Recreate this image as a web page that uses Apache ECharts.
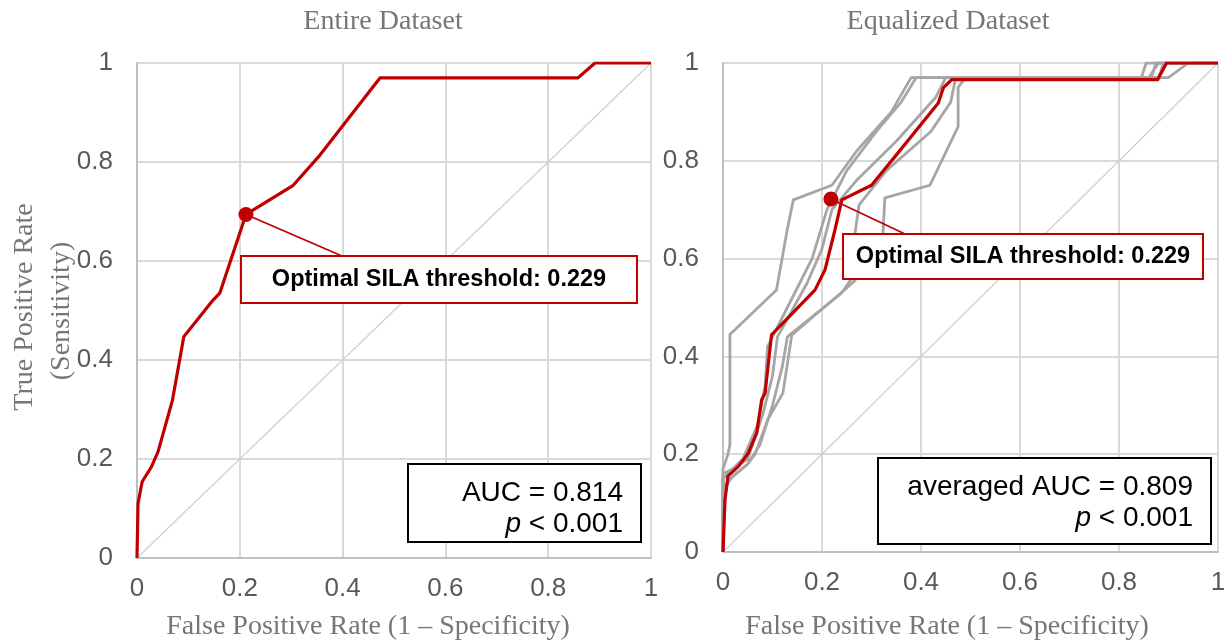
<!DOCTYPE html>
<html>
<head>
<meta charset="utf-8">
<script src="https://cdn.jsdelivr.net/npm/echarts@6/dist/echarts.min.js"></script>
<style>
html,body{margin:0;padding:0;background:#fff}
#roc{width:1232px;height:640px}
</style>
</head>
<body>
<div id="roc"></div>
<script>
// axis ticks (both panels)
var tickValues = [0, 0.2, 0.4, 0.6, 0.8, 1];

// Entire dataset ROC curve  [fpr, tpr]
var entireCurve = [[0,0],[0.002,0.11],[0.01,0.154],[0.028,0.184],[0.041,0.215],[0.069,0.319],[0.091,0.447],
  [0.148,0.521],[0.161,0.535],[0.212,0.694],[0.304,0.753],[0.356,0.814],[0.473,0.97],[0.858,0.97],[0.891,1],[1,1]];
var entireOptimal = [[0.212,0.694]];

// Equalized dataset: averaged curve (red) + individual runs (grey)
var equalAvgCurve = [[0,0],[0.004,0.106],[0.01,0.155],[0.031,0.175],[0.051,0.202],[0.068,0.243],[0.078,0.311],
  [0.085,0.325],[0.098,0.444],[0.186,0.536],[0.206,0.577],[0.226,0.658],[0.24,0.72],[0.30,0.75],[0.347,0.808],
  [0.435,0.918],[0.445,0.949],[0.462,0.966],[0.878,0.966],[0.896,1],[1,1]];
var equalOptimal = [[0.218,0.722]];
var run1 = [[0,0],[0,0.17],[0.01,0.2],[0.014,0.22],[0.014,0.445],[0.108,0.536],[0.13,0.66],[0.142,0.72],
  [0.22,0.75],[0.27,0.82],[0.34,0.9],[0.38,0.97],[0.86,0.97],[0.88,1],[1,1]];
var run2 = [[0,0],[0,0.16],[0.02,0.17],[0.04,0.19],[0.07,0.26],[0.085,0.34],[0.09,0.42],[0.13,0.5],[0.18,0.6],
  [0.21,0.7],[0.25,0.78],[0.31,0.86],[0.36,0.92],[0.39,0.97],[0.845,0.97],[0.855,1],[1,1]];
var run3 = [[0,0],[0,0.15],[0.02,0.17],[0.05,0.19],[0.08,0.28],[0.1,0.36],[0.11,0.44],[0.17,0.55],[0.2,0.62],
  [0.22,0.7],[0.27,0.76],[0.35,0.84],[0.43,0.93],[0.45,0.97],[0.865,0.97],[0.875,1],[1,1]];
var run4 = [[0,0],[0,0.12],[0.015,0.15],[0.05,0.18],[0.075,0.22],[0.1,0.3],[0.12,0.38],[0.13,0.44],[0.24,0.53],
  [0.26,0.56],[0.265,0.64],[0.275,0.71],[0.33,0.78],[0.42,0.86],[0.46,0.92],[0.47,0.97],[0.88,0.97],[0.89,1],[1,1]];
var run5 = [[0,0],[0,0.13],[0.02,0.155],[0.05,0.18],[0.065,0.2],[0.09,0.27],[0.121,0.325],[0.139,0.444],
  [0.25,0.54],[0.267,0.556],[0.323,0.648],[0.327,0.724],[0.418,0.75],[0.475,0.87],[0.475,0.95],[0.49,0.97],
  [0.9,0.97],[0.94,1],[1,1]];
var equalRuns = [run1, run2, run3, run4, run5];
var chance = [[0,0],[1,1]];

var RED = '#c00000', GREY = '#a6a6a6';
var tickFont = 'Liberation Sans';
var serif = "'Liberation Serif', 'Times New Roman', serif";

function valAxis(gi, isY) {
  return {
    type: 'value', gridIndex: gi, min: 0, max: 1, interval: 0.2,
    axisLine: {show: true, lineStyle: {color: '#bfbfbf', width: 2}},
    axisTick: {show: false},
    splitLine: {show: true, lineStyle: {color: '#d9d9d9', width: 2}},
    axisLabel: {
      color: '#595959', fontSize: 26, fontFamily: tickFont,
      margin: isY ? 24 : 18,
      formatter: function (v) { return String(+v.toFixed(1)); }
    }
  };
}

function line(gi, data, color, width, z) {
  return {
    type: 'line', xAxisIndex: gi, yAxisIndex: gi, data: data,
    symbol: 'none', silent: true, animation: false, z: z,
    lineStyle: {color: color, width: width, join: 'round'}
  };
}

var series = [
  line(0, chance, '#cfcfcf', 1.2, 1),
  line(1, chance, '#cfcfcf', 1.2, 1)
];
equalRuns.forEach(function (r) { series.push(line(1, r, GREY, 2.8, 2)); });
series.push(line(0, entireCurve, RED, 3.2, 3));
series.push(line(1, equalAvgCurve, RED, 3.2, 3));
[[0, entireOptimal], [1, equalOptimal]].forEach(function (p) {
  series.push({type: 'scatter', xAxisIndex: p[0], yAxisIndex: p[0], data: p[1],
    symbolSize: 15, itemStyle: {color: RED, opacity: 1}, z: 5, silent: true, animation: false});
});

var chart = echarts.init(document.getElementById('roc'));
chart.setOption({
  backgroundColor: '#fff',
  animation: false,
  grid: [
    {left: 137, top: 63, width: 514, height: 495},
    {left: 723, top: 63, width: 495, height: 489}
  ],
  xAxis: [valAxis(0, false), valAxis(1, false)],
  yAxis: [valAxis(0, true), valAxis(1, true)],
  series: series
});

// annotations
function txt(x, y, text, font, fill, align, extra) {
  var o = {type: 'text', x: x, y: y, z: 20, silent: true,
    style: {text: text, font: font, fill: fill, align: align || 'center', verticalAlign: 'middle'}};
  if (extra) Object.assign(o, extra);
  return o;
}
function box(x1, y1, x2, y2, color) {
  return {type: 'rect', z: 15, silent: true, shape: {x: x1, y: y1, width: x2 - x1, height: y2 - y1},
    style: {fill: '#fff', stroke: color, lineWidth: 2}};
}
var d0 = chart.convertToPixel({gridIndex: 0}, entireOptimal[0]);
var d1 = chart.convertToPixel({gridIndex: 1}, equalOptimal[0]);
var serifFont = '28px ' + serif;
var aucFont = '28px Liberation Sans';
var boxFont = 'bold 23.5px Liberation Sans';
var rich = {i: {fontStyle: 'italic', font: 'italic 28px Liberation Sans', fill: '#000'},
            n: {font: '28px Liberation Sans', fill: '#000'}};

chart.setOption({
  graphic: [
    txt(383, 22, 'Entire Dataset', serifFont, '#767676'),
    txt(948, 22, 'Equalized Dataset', serifFont, '#767676'),
    txt(368, 627, 'False Positive Rate (1 \u2013 Specificity)', serifFont, '#767676'),
    txt(947, 627, 'False Positive Rate (1 \u2013 Specificity)', serifFont, '#767676'),
    txt(25, 307, 'True Positive Rate', serifFont, '#767676', 'center', {rotation: Math.PI / 2}),
    txt(62, 311, '(Sensitivity)', serifFont, '#767676', 'center', {rotation: Math.PI / 2}),

    {type: 'line', z: 4, silent: true, shape: {x1: d0[0], y1: d0[1], x2: 342, y2: 256}, style: {stroke: RED, lineWidth: 1.8}},
    {type: 'line', z: 4, silent: true, shape: {x1: d1[0], y1: d1[1], x2: 905, y2: 234}, style: {stroke: RED, lineWidth: 1.8}},
    box(241, 256, 637, 303, RED),
    txt(439, 280, 'Optimal SILA threshold: 0.229', boxFont, '#000'),
    box(843, 234, 1203, 279, RED),
    txt(1023, 257, 'Optimal SILA threshold: 0.229', boxFont, '#000'),

    box(408, 464, 641, 542, '#000'),
    txt(623, 493, 'AUC = 0.814', aucFont, '#000', 'right'),
    {type: 'text', x: 623, y: 524, z: 20, silent: true,
      style: {text: '{i|p}{n| < 0.001}', rich: rich, align: 'right', verticalAlign: 'middle'}},
    box(878, 458, 1211, 544, '#000'),
    txt(1193, 487, 'averaged AUC = 0.809', aucFont, '#000', 'right'),
    {type: 'text', x: 1193, y: 518, z: 20, silent: true,
      style: {text: '{i|p}{n| < 0.001}', rich: rich, align: 'right', verticalAlign: 'middle'}}
  ]
});
</script>
</body>
</html>
